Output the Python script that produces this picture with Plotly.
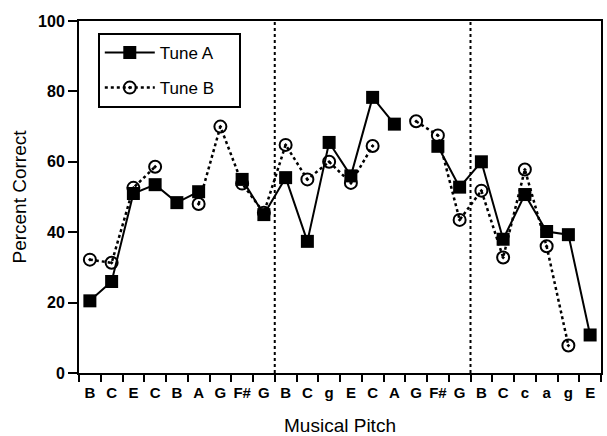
import plotly.graph_objects as go

pitches = ["B", "C", "E", "C", "B", "A", "G", "F#", "G",
           "B", "C", "g", "E", "C", "A", "G", "F#", "G",
           "B", "C", "c", "a", "g", "E"]
tune_a = [20.5, 26, 51, 53.5, 48.4, 51.5, None, 55, 45,
          55.5, 37.4, 65.5, 56, 78.3, 70.7, None, 64.4, 52.8,
          60, 38, 50.7, 40.2, 39.3, 10.8]
tune_b = [32.2, 31.3, 52.6, 58.6, None, 48, 70, 53.8, 45.5,
          64.8, 55, 60, 54, 64.5, None, 71.5, 67.5, 43.5,
          51.8, 32.8, 57.8, 36, 7.8, None]
dividers = [8.5, 17.5]
y_ticks = [0, 20, 40, 60, 80, 100]

x = list(range(len(pitches)))
font = "Arial, Liberation Sans, sans-serif"
pad = "&nbsp;" * 4

fig = go.Figure()
fig.add_trace(go.Scatter(
    x=x, y=tune_b, name="Tune B" + pad, mode="lines+markers",
    line=dict(color="black", width=2.5, dash="dot"),
    marker=dict(symbol="circle-open-dot", size=12, color="black", line=dict(width=2)),
    connectgaps=False, legendgroup="b", legendrank=2,
))
fig.add_trace(go.Scatter(
    x=x, y=tune_a, name="Tune A" + pad, mode="lines+markers",
    line=dict(color="black", width=2),
    marker=dict(symbol="square", size=13, color="black"),
    connectgaps=False, legendgroup="a", legendrank=1,
))

for d in dividers:
    fig.add_shape(type="line", x0=d, x1=d, y0=0, y1=100, xref="x", yref="y",
                  line=dict(color="black", width=2, dash="dot"))

fig.update_layout(
    width=607, height=436,
    margin=dict(l=79, r=6, t=21, b=63),
    paper_bgcolor="white", plot_bgcolor="white",
    font=dict(family=font, color="black", size=15),
    showlegend=True,
    legend=dict(
        x=0.036, y=0.966, xanchor="left", yanchor="top",
        bordercolor="black", borderwidth=2, bgcolor="white",
        font=dict(size=17, family=font),
        traceorder="grouped", tracegroupgap=10, itemwidth=50,
    ),
    xaxis=dict(
        range=[-0.5, 23.5], tickmode="array", tickvals=x, ticktext=pitches,
        ticks="", showgrid=False, zeroline=False, automargin=False,
        showline=True, linecolor="black", linewidth=2, mirror=True,
        tickfont=dict(size=15, weight="bold"), ticklabelstandoff=5,
        minor=dict(tickmode="array", tickvals=[i + 0.5 for i in range(-1, 24)],
                   ticks="outside", ticklen=7, tickwidth=1.5, tickcolor="black", showgrid=False),
        title=dict(text="Musical Pitch", font=dict(size=19), standoff=22),
    ),
    yaxis=dict(
        range=[0, 100], tickmode="array", tickvals=y_ticks,
        ticks="outside", ticklen=9, tickwidth=1.5, tickcolor="black",
        showgrid=False, zeroline=False, automargin=False,
        showline=True, linecolor="black", linewidth=2, mirror=True,
        tickfont=dict(size=16, weight="bold"),
        title=dict(text="Percent Correct", font=dict(size=19), standoff=6),
    ),
)

fig.write_html("out.html")
